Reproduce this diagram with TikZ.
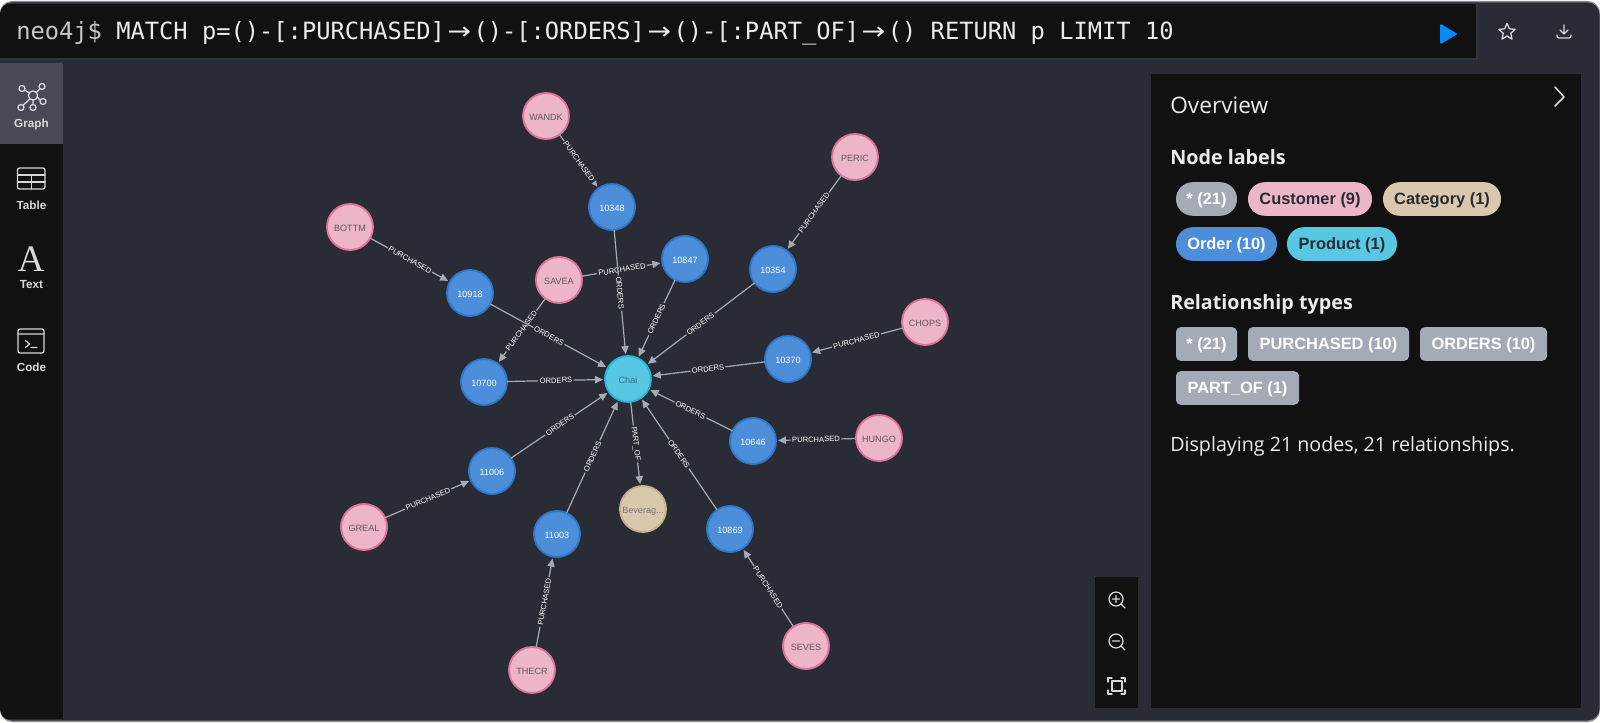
\documentclass[tikz,border=0pt]{standalone}
\usepackage{fontspec}
\usepackage{graphicx}
\usetikzlibrary{arrows.meta}
\setmainfont{Liberation Sans}
\newfontfamily\opensans{Open Sans}
\newfontfamily\qmono{DejaVu Sans Mono}
\newfontfamily\dejasans{DejaVu Sans}
\newfontfamily\serifA{Liberation Serif}
\definecolor{bgdark}{HTML}{292C34}
\definecolor{barblack}{HTML}{111111}
\definecolor{barline}{HTML}{2F333B}
\definecolor{tabgray}{HTML}{4A4856}
\definecolor{rimgray}{HTML}{8A8D93}
\definecolor{cuFill}{HTML}{ECB5C9}
\definecolor{cuLine}{HTML}{DA7298}
\definecolor{orFill}{HTML}{4C8EDA}
\definecolor{orLine}{HTML}{2E76C8}
\definecolor{prFill}{HTML}{57C7E3}
\definecolor{prLine}{HTML}{23B3D7}
\definecolor{caFill}{HTML}{D9C8AE}
\definecolor{caLine}{HTML}{C0A378}
\definecolor{grFill}{HTML}{A5ABB6}
\definecolor{edgeCol}{HTML}{A5ABB6}
\definecolor{iconCol}{HTML}{D8D8D8}
\definecolor{playBlue}{HTML}{018BFF}
\definecolor{pillDark}{HTML}{2A2C34}
\newlength{\qcell}
\newcommand{\qarrow}{\makebox[2\qcell][c]{\scalebox{1.2}[1]{\dejasans →}}}
\tikzset{
  x=0.75pt,y=-0.75pt,
  gnode/.style={circle,minimum size=34.5pt,inner sep=0pt,outer sep=0pt,line width=1.4pt,text height=6.2pt,text depth=0pt,font=\fontsize{6.8}{8}\selectfont},
  cust/.style={gnode,fill=cuFill,draw=cuLine,text=pillDark!70!cuFill},
  ordr/.style={gnode,fill=orFill,draw=orLine,text=white},
  prod/.style={gnode,fill=prFill,draw=prLine,text=pillDark!60!prFill},
  catg/.style={gnode,fill=caFill,draw=caLine!70!caFill,text=pillDark!55!caFill},
  edge/.style={draw=edgeCol,line width=0.9pt,-{Triangle[length=6pt,width=5.5pt]},shorten >=1.5pt},
  elab/.style={sloped,midway,fill=bgdark,inner sep=1pt,text=white,font=\fontsize{5.7}{7}\selectfont},
  pill/.style={minimum height=25.2pt,inner sep=0pt,outer sep=0pt,rounded corners=12.6pt,text height=10.5pt,text depth=2.6pt,font=\bfseries\fontsize{12.3}{14}\selectfont},
  relp/.style={pill,fill=grFill,text=white,rounded corners=3.5pt},
  head/.style={anchor=base west,inner sep=0pt,text=white!92!black,font=\opensans\fontsize{17}{20}\selectfont},
  headb/.style={anchor=base west,inner sep=0pt,text=white!92!black,font=\opensans\bfseries\fontsize{14.8}{18}\selectfont},
  tab/.style={inner sep=0pt,text=iconCol,font=\bfseries\fontsize{8.8}{10}\selectfont},
  icon/.style={draw=iconCol,line width=0.95pt,line cap=round,line join=round},
}
\begin{document}
\begin{tikzpicture}
\useasboundingbox (0,0) rectangle (1600,723);
\fill[white] (0,0) rectangle (1600,723);
% frame
\fill[rimgray,rounded corners=9pt] (0,1) rectangle (1600,722);
\begin{scope}
\clip[rounded corners=9pt] (0,2.5) rectangle (1599.5,720.5);
\fill[bgdark] (0,0) rectangle (1600,723);
\fill[barblack,draw=barline,line width=0.8pt] (-2,3) rectangle (1477,59);
\fill[barblack] (0,63) rectangle (63,719);
\fill[tabgray] (0,63) rectangle (63,144);
\end{scope}
\fill[barblack] (1151,74) rectangle (1581,708);
\fill[barblack] (1095,577) rectangle (1138,708);

% query
\node[anchor=base west,inner sep=0pt,text=white!92!black] (query) at (16,39.2) {\qmono\fontsize{17.8}{20}\selectfont\setlength{\qcell}{0.602em}\textcolor{white!78!black}{neo4j\$} MATCH p=()-[:PURCHASED]\qarrow()-[:ORDERS]\qarrow()-[:PART\_OF]\qarrow() RETURN p LIMIT 10};

% toolbar icons
\fill[playBlue,draw=playBlue,line width=1.2pt,line join=round] (1441,25) -- (1456,34) -- (1441,43) -- cycle;
\draw[icon] (1507,23.5) -- (1509.4,28.8) -- (1515.1,29.4) -- (1510.8,33.2) -- (1512,39.2) -- (1507,36) -- (1502,39.2) -- (1503.2,33.2) -- (1498.9,29.4) -- (1504.6,28.8) -- cycle;
\draw[icon] (1564,25) -- (1564,33) (1560,30) -- (1564,34) -- (1568,30);
\draw[icon] (1557,35) -- (1557,36) arc[start angle=180,end angle=90,radius=2] -- (1569,38) arc[start angle=90,end angle=0,radius=2] -- (1571,35);

% sidebar
\draw[icon] (33,95.5) circle[radius=4.6];
\foreach \a/\b/\r in {22/88.5/3,42/86.5/3,43/101.5/3,33/107.5/3,21/107.5/3}{\draw[icon] (\a,\b) circle[radius=\r];}
\draw[icon] (29.5,93) -- (24.5,90) (36.3,92.5) -- (40,88.8) (37.5,97.3) -- (40.3,100.3) (33,100.1) -- (33,104.5) (29.8,99) -- (23,105.5);
\node[tab] (tgraph) at (31.5,124) {Graph};
\draw[icon,rounded corners=1.5pt] (17.5,168) rectangle (45,189);
\draw[icon] (17.5,175) -- (45,175) (17.5,182) -- (45,182) (31.2,175) -- (31.2,189);
\node[tab] (ttable) at (31.5,205) {Table};
\node[inner sep=0pt,text=iconCol] (ticon) at (31,259) {\serifA\fontsize{28}{30}\selectfont A};
\node[tab] (ttext) at (31.5,285) {Text};
\draw[icon,rounded corners=1.5pt] (18,329) rectangle (44,353);
\draw[icon] (18,334) -- (44,334) (25.5,340.5) -- (29.5,344) -- (25.5,347.5) (31,347.5) -- (37,347.5);
\node[tab] (tcode) at (31.5,367.5) {Code};

% zoom controls
\draw[icon] (1116,599) circle[radius=7];
\draw[icon] (1121,604) -- (1125,608) (1112.5,599) -- (1119.5,599) (1116,595.5) -- (1116,602.5);
\draw[icon] (1116,641) circle[radius=7];
\draw[icon] (1121,646) -- (1125,650) (1112.5,641) -- (1119.5,641);
\draw[icon] (1112,681) rectangle (1122,691);
\draw[icon] (1108,682) -- (1108,678) -- (1112,678) (1121,678) -- (1125,678) -- (1125,682) (1125,690) -- (1125,694) -- (1121,694) (1112,694) -- (1108,694) -- (1108,690);

% panel
\draw[icon,line width=1.1pt] (1555,87) -- (1564,97) -- (1555,106);
\node[head] (overview) at (1170,114) {Overview};
\node[headb] (nodelabels) at (1170,165) {Node labels};
\node[pill,fill=grFill,text=white,minimum width=45.75pt] (p1) at (1206.5,199) {* (21)};
\node[pill,fill=cuFill,text=pillDark,minimum width=93pt] (p2) at (1310,199) {Customer (9)};
\node[pill,fill=caFill,text=pillDark,minimum width=88.5pt] (p3) at (1442,199) {Category (1)};
\node[pill,fill=orFill,text=white,minimum width=75.75pt] (p4) at (1226.5,244) {Order (10)};
\node[pill,fill=prFill,text=pillDark,minimum width=82.5pt] (p5) at (1342,244) {Product (1)};
\node[headb] (reltypes) at (1170,310) {Relationship types};
\node[relp,minimum width=45.75pt] (r1) at (1206.5,344) {* (21)};
\node[relp,minimum width=120.75pt] (r2) at (1328.5,344) {PURCHASED (10)};
\node[relp,minimum width=95.25pt] (r3) at (1483.5,344) {ORDERS (10)};
\node[relp,minimum width=92.25pt] (r4) at (1237.5,388) {PART\_OF (1)};
\node[anchor=base west,inner sep=0pt,text=white!92!black,font=\opensans\fontsize{14.75}{18}\selectfont] (display) at (1170,452) {Displaying 21 nodes, 21 relationships.};

% graph nodes
\node[cust] (wandk) at (546,116) {WANDK};
\node[cust] (peric) at (855,157) {PERIC};
\node[cust] (bottm) at (350,227) {BOTTM};
\node[cust] (savea) at (559,280) {SAVEA};
\node[cust] (chops) at (925,322) {CHOPS};
\node[cust] (hungo) at (879,438) {HUNGO};
\node[cust] (greal) at (364,527) {GREAL};
\node[cust] (thecr) at (532,670) {THECR};
\node[cust] (seves) at (806,646) {SEVES};
\node[ordr] (o10348) at (612,207) {10348};
\node[ordr] (o10847) at (685,259) {10847};
\node[ordr] (o10354) at (773,269) {10354};
\node[ordr] (o10918) at (470,293) {10918};
\node[ordr] (o10370) at (788,359) {10370};
\node[ordr] (o10700) at (484,382) {10700};
\node[ordr] (o10646) at (753,441) {10646};
\node[ordr] (o11006) at (492,471) {11006};
\node[ordr] (o10869) at (730,529) {10869};
\node[ordr] (o11003) at (557,534) {11003};
\node[prod] (chai) at (628,379) {Chai};
\node[catg] (bever) at (643,509) {Beverag...};

% edges
\foreach \a/\b in {wandk/o10348,peric/o10354,bottm/o10918,savea/o10847,savea/o10700,chops/o10370,hungo/o10646,greal/o11006,thecr/o11003,seves/o10869}{
  \draw[edge] (\a) -- node[elab]{PURCHASED} (\b);
}
\foreach \a in {o10348,o10847,o10354,o10918,o10370,o10700,o10646,o11006,o10869,o11003}{
  \draw[edge] (\a) -- node[elab]{ORDERS} (chai);
}
\draw[edge] (chai) -- node[elab]{PART\_OF} (bever);
\end{tikzpicture}
\end{document}
